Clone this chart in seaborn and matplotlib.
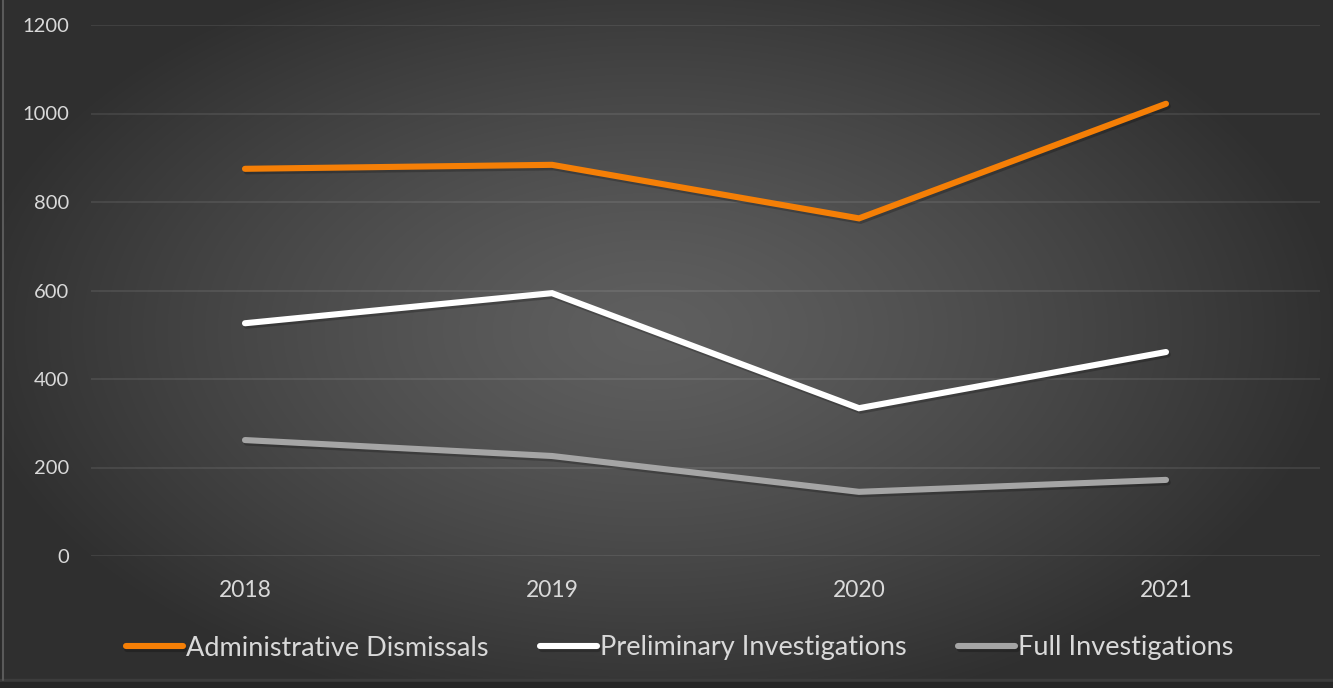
import numpy as np
import pandas as pd
import matplotlib
matplotlib.use("Agg")
import matplotlib.pyplot as plt
import matplotlib.patheffects as pe
import seaborn as sns

# data
years = ["2018", "2019", "2020", "2021"]
admin_dismissals = [875, 884, 763, 1022]
preliminary = [526, 594, 334, 461]
full_inv = [262, 226, 145, 172]
series_names = ["Administrative Dismissals", "Preliminary Investigations", "Full Investigations"]
series_colors = ["#F57F06", "#FFFFFF", "#A5A5A5"]
y_ticks = [0, 200, 400, 600, 800, 1000, 1200]

df = pd.DataFrame({
    "year": years * 3,
    "value": admin_dismissals + preliminary + full_inv,
    "series": [s for s in series_names for _ in years],
})

sns.set_theme(style="white")
plt.rcParams["font.family"] = ["Lato", "DejaVu Sans"]

W, H = 1333, 688
fig = plt.figure(figsize=(W / 100, H / 100), dpi=100)

# radial gradient background
bg = fig.add_axes([0, 0, 1, 1], zorder=0)
yy, xx = np.mgrid[0:H, 0:W]
dx = (xx - 650) / (W * 0.52)
dy = (yy - 330) / (H * 0.58)
r = np.clip(np.sqrt(dx ** 2 + dy ** 2), 0, 1)
shade = 0x5f - (0x5f - 0x2f) * r ** 1.3
img = np.dstack([shade, shade, shade]) / 255.0
bg.imshow(img, aspect="auto", extent=[0, W, H, 0])
bg.plot([2.5, 2.5], [0, H - 8], color="#5a5a5a", lw=1.5)
bg.axvspan(0, 2, color="#2a2a2a")
bg.axhspan(H - 9, H - 6, color="#3c3c3c")
bg.axhspan(H - 6, H, color="#262626")
bg.set_xlim(0, W)
bg.set_ylim(H, 0)
bg.axis("off")

ax = fig.add_axes([91.5 / W, 1 - 556 / H, (1319.5 - 91.5) / W, (556 - 25) / H], zorder=1)
ax.patch.set_alpha(0)

sns.lineplot(data=df, x="year", y="value", hue="series", palette=series_colors,
             linewidth=4.4, sort=False, ax=ax, solid_capstyle="round", solid_joinstyle="miter")

for ln in ax.lines:
    ln.set_path_effects([pe.SimpleLineShadow(offset=(1.2, -1.8), shadow_color="black", alpha=0.22),
                         pe.Normal()])

ax.set_xlim(-0.5, 3.5)
ax.set_ylim(0, 1200)
ax.set_yticks(y_ticks)
ax.set_yticklabels([str(t) for t in y_ticks])
ax.grid(axis="y", color="white", alpha=0.09, linewidth=1.3)
ax.set_axisbelow(True)
for s in ax.spines.values():
    s.set_visible(False)
ax.tick_params(axis="y", length=0, pad=16, labelsize=14.5, labelcolor="#D9D9D9")
ax.tick_params(axis="x", length=0, pad=17, labelsize=16.5, labelcolor="#D9D9D9")
ax.set_xlabel("")
ax.set_ylabel("")

handles, labels = ax.get_legend_handles_labels()
ax.get_legend().remove()
leg = ax.legend(handles, labels, loc="center", bbox_to_anchor=(0.479, (556 - 648) / (556 - 25)),
                ncol=3, frameon=False, handlelength=2.1, handletextpad=0.12, columnspacing=1.9,
                fontsize=19.5, labelcolor="#D9D9D9")
for ln in leg.get_lines():
    ln.set_solid_capstyle("round")
    ln.set_linewidth(4.4)

fig.savefig("out.png", dpi=100)
